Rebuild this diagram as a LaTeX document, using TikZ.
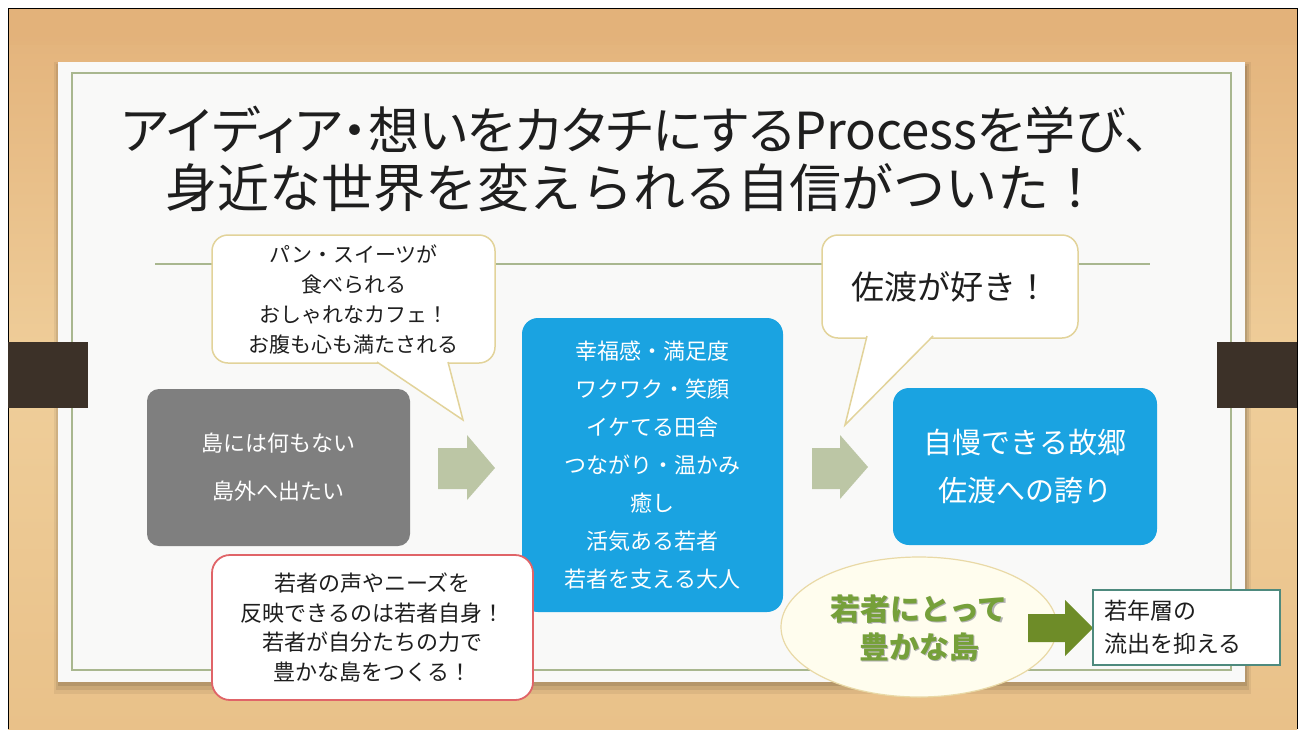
\documentclass[tikz,border=0pt]{standalone}
\usepackage{fontspec}
\setmainfont{Noto Sans CJK JP}
\newfontfamily\jpp[RawFeature=+palt]{Noto Sans CJK JP}
\usetikzlibrary{shapes.geometric}
\definecolor{woodA}{HTML}{E3B27A}
\definecolor{woodB}{HTML}{EFCE9A}
\definecolor{woodC}{HTML}{E9C189}
\definecolor{board}{HTML}{F9F9F8}
\definecolor{frameline}{HTML}{A9B78F}
\definecolor{tab}{HTML}{3C3128}
\definecolor{bubbleline}{HTML}{E2D39A}
\definecolor{boxgray}{HTML}{7F7F7F}
\definecolor{boxblue}{HTML}{1AA3E1}
\definecolor{boxred}{HTML}{E06468}
\definecolor{arrowlight}{HTML}{BCC6A5}
\definecolor{arrowgreen}{HTML}{6E8C28}
\definecolor{textdark}{HTML}{1E1E1E}
\definecolor{ellfill}{HTML}{FFFDEE}
\definecolor{ellline}{HTML}{E9D9A6}
\definecolor{greentext}{HTML}{76A03A}
\definecolor{tealline}{HTML}{4E8A7E}
\newcommand\fsz[2]{\fontsize{#1pt}{#2pt}\selectfont}
\tikzset{
  bubble/.style={draw=bubbleline, line width=1.5pt, fill=white, rounded corners=16pt, align=center, text=textdark},
  graybox/.style={fill=boxgray, rounded corners=12pt, align=center, text=white},
  bluebox/.style={fill=boxblue, rounded corners=16pt, align=center, text=white},
  redbox/.style={draw=boxred, line width=1.8pt, fill=white, rounded corners=18pt, align=center, text=textdark},
  tailfill/.style={fill=white},
  tailline/.style={draw=bubbleline, line width=1.5pt, line join=miter},
  blockarrow/.style={fill=arrowlight},
  greenarrow/.style={fill=arrowgreen},
}
\begin{document}
\begin{tikzpicture}[x=1pt,y=-1pt, every node/.style={inner sep=0pt, outer sep=0pt}]
\useasboundingbox (0,0) rectangle (1298,729);
\fill[white] (0,0) rectangle (1298,729);
% wood background
\shade[top color=woodA, bottom color=woodC, middle color=woodB] (8,8) rectangle (1297,729);
\fill[woodA, opacity=0.5] (8,8) rectangle (1297,45);
\draw[black, line width=1pt] (8,729) -- (8,8) -- (1297,8) -- (1297,729);
% board shadow
\fill[black, opacity=0.06] (54,62) rectangle (1251,694);
\fill[black, opacity=0.08] (56,64) rectangle (1249,690);
\fill[black, opacity=0.10] (58,66) rectangle (1247,686);
% board
\fill[board] (58,62) rectangle (1245,682);
\draw[frameline, line width=1.5pt] (72,73) rectangle (1231,670);
% tabs
\fill[tab] (8,342) rectangle (88,408);
\fill[tab] (1217,342) rectangle (1297,408);
% title
\node[text=textdark, font={\jpp\fsz{51}{58}}] (title1) at (636,130) {アイディア・想いをカタチにするProcessを学び、};
\node[text=textdark, font={\fsz{52}{58}}] (title2) at (633,188) {身近な世界を変えられる自信がついた！};
% horizontal rule
\draw[frameline, line width=2pt] (155,264) -- (1150,264);
% bubble 1
\coordinate (t1a) at (377,362);
\coordinate (t1b) at (448,362);
\coordinate (t1tip) at (463,420);
\node[bubble, minimum width=283pt, minimum height=128pt, font={\fsz{21}{30}}] (bub1) at (353.5,299)
  {パン・スイーツが\\食べられる\\おしゃれなカフェ！\\お腹も心も満たされる};
\fill[tailfill] (t1a) -- (t1tip) -- (t1b) -- cycle;
\draw[tailline] (t1a) -- (t1tip) -- (t1b);
% gray box
\node[graybox, minimum width=263pt, minimum height=157pt, font={\fsz{22}{48}}] (gray) at (278.5,467.5)
  {島には何もない\\島外へ出たい};
% middle blue box
\node[bluebox, minimum width=261pt, minimum height=294pt, font={\fsz{22}{38}}] (mid) at (652.5,465)
  {幸福感・満足度\\ワクワク・笑顔\\イケてる田舎\\つながり・温かみ\\癒し\\活気ある若者\\若者を支える大人};
% bubble 2
\coordinate (t2a) at (867,336);
\coordinate (t2b) at (933,336);
\coordinate (t2tip) at (845,425);
\node[bubble, minimum width=256pt, minimum height=103pt, font={\fsz{33}{40}}] (bub2) at (950,286.5)
  {佐渡が好き！};
\fill[tailfill] (t2a) -- (t2tip) -- (t2b) -- cycle;
\draw[tailline] (t2a) -- (t2tip) -- (t2b);
% right blue box
\node[bluebox, minimum width=264pt, minimum height=157pt, font={\fsz{29}{48}}] (pride) at (1025,466.5)
  {自慢できる故郷\\佐渡への誇り};
% block arrows
\fill[blockarrow] (438,448) -- (467,448) -- (467,435) -- (495,468) -- (467,500) -- (467,489) -- (438,489) -- cycle;
\fill[blockarrow] (812,448) -- (840,448) -- (840,435) -- (868,467) -- (840,499) -- (840,489) -- (812,489) -- cycle;
% red box
\node[redbox, minimum width=321pt, minimum height=145pt, font={\fsz{22}{29.5}}] (voice) at (372.5,627.5)
  {若者の声やニーズを\\反映できるのは若者自身！\\若者が自分たちの力で\\豊かな島をつくる！};
% ellipse
\node[ellipse, draw=ellline, line width=1.2pt, fill=ellfill, minimum width=276pt, minimum height=140pt] (rich) at (919,627) {};
\node[text=black!30, align=center, font={\bfseries\fsz{30}{38}}] (richs) at (920.5,629.5) {若者にとって\\豊かな島};
\node[text=greentext, align=center, font={\bfseries\fsz{30}{38}}] (richt) at (919,628) {若者にとって\\豊かな島};
% green arrow
\fill[greenarrow] (1028,614) -- (1065,614) -- (1065,600) -- (1093,628) -- (1065,656) -- (1065,642) -- (1028,642) -- cycle;
% outflow box
\node[draw=tealline, line width=1.5pt, fill=white, minimum width=187pt, minimum height=75pt, text width=165pt, align=left, text=textdark, font={\fsz{23}{33}}] (outflow) at (1186.5,627.5)
  {若年層の\\流出を抑える};
\end{tikzpicture}
\end{document}
